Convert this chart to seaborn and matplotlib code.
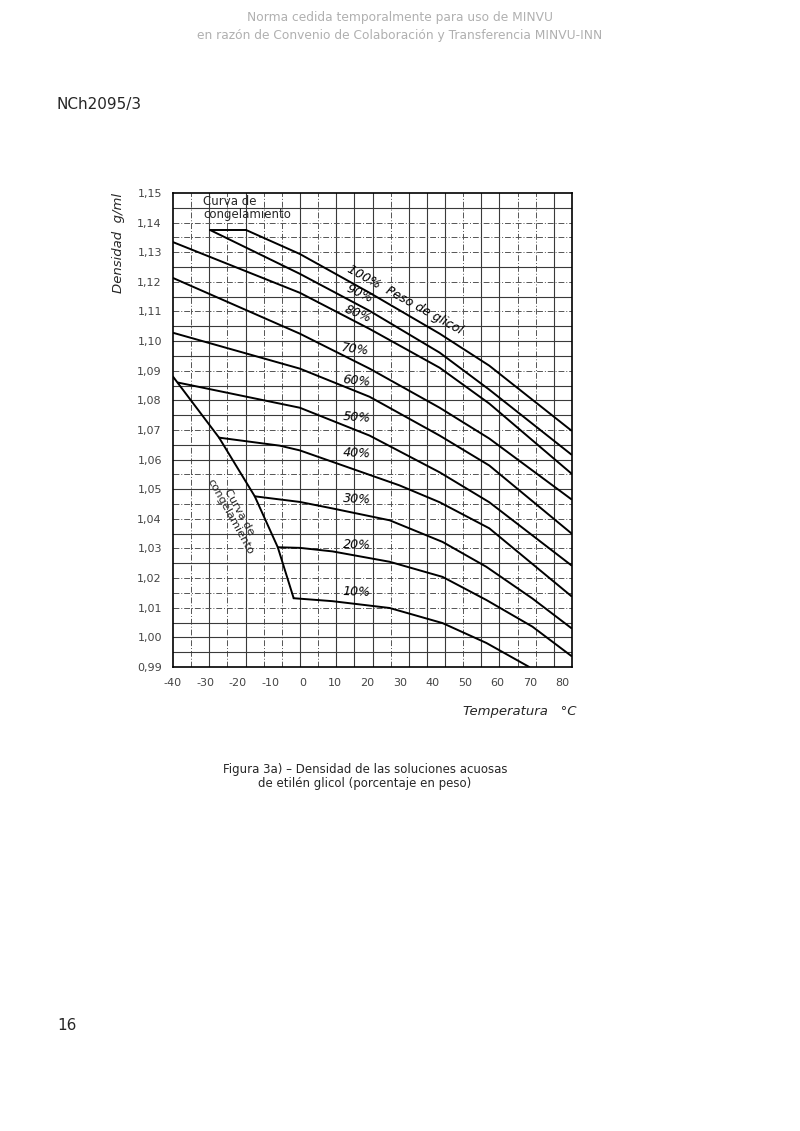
import numpy as np
import pandas as pd
import matplotlib.pyplot as plt
import seaborn as sns
from matplotlib.ticker import FixedLocator, FuncFormatter

# Density (g/ml) of ethylene glycol solutions vs temperature (°C),
# values
t_100 = [-17.5, -0.9, 20.6, 42.2, 57.5, 82.8]
d_100 = [1.1375, 1.1294, 1.1163, 1.1025, 1.0917, 1.0698]
t_90 = [-28.6, -0.9, 20.6, 42.2, 57.5, 82.8]
d_90 = [1.1375, 1.1227, 1.1102, 1.0961, 1.0836, 1.0617]
t_80 = [-40, -0.9, 20.6, 42.2, 57.5, 82.8]
d_80 = [1.1334, 1.1163, 1.1041, 1.0910, 1.0789, 1.0553]
t_70 = [-40, -0.9, 20.6, 42.2, 57.5, 82.8]
d_70 = [1.1213, 1.1025, 1.0907, 1.0775, 1.0671, 1.0466]
t_60 = [-40, -0.9, 20.6, 42.2, 57.5, 82.8]
d_60 = [1.1028, 1.0907, 1.0812, 1.0681, 1.0580, 1.0351]
t_50 = [-38.5, -0.9, 20.6, 42.2, 57.5, 82.8]
d_50 = [1.0860, 1.0775, 1.0681, 1.0557, 1.0456, 1.0243]
t_40 = [-25.8, -7.1, -0.9, 29.8, 42.2, 57.5, 82.8]
d_40 = [1.0674, 1.0647, 1.0631, 1.0513, 1.0456, 1.0368, 1.0139]
t_30 = [-14.8, -0.9, 9.2, 26.8, 43.1, 56.6, 70.8, 82.8]
d_30 = [1.0476, 1.0457, 1.0435, 1.0395, 1.0322, 1.0238, 1.0131, 1.0031]
t_20 = [-7.7, -0.9, 9.2, 26.8, 43.1, 56.6, 70.8, 82.8]
d_20 = [1.0304, 1.0302, 1.0290, 1.0255, 1.0204, 1.0126, 1.0036, 0.9937]
t_10 = [-2.8, 9.2, 26.8, 43.1, 56.6, 69.8]
d_10 = [1.0132, 1.0122, 1.0099, 1.0048, 0.9981, 0.9900]

# freezing curve (curva de congelamiento)
t_freeze_low = [-40, -25.8, -14.8, -7.7, -2.8]
d_freeze_low = [1.0880, 1.0674, 1.0476, 1.0304, 1.0132]
t_freeze_top = [-28.6, -17.5]
d_freeze_top = [1.1375, 1.1375]

labels = ['100%', '90%', '80%', '70%', '60%', '50%', '40%', '30%', '20%', '10%']
label_t = [14.0, 17.5, 16.9, 16.0, 16.6, 16.6, 16.6, 16.6, 16.6, 16.6]
label_d = [1.1246, 1.1159, 1.1092, 1.0971, 1.0866, 1.0742, 1.0621, 1.0466, 1.0311, 1.0153]
label_rot = [-29, -25, -22, -8, -6, -4, -3, -3, -2, -2]

x_ticks = [-40, -30, -20, -10, 0, 10, 20, 30, 40, 50, 60, 70, 80]
y_ticks = [0.99, 1.00, 1.01, 1.02, 1.03, 1.04, 1.05, 1.06, 1.07, 1.08,
           1.09, 1.10, 1.11, 1.12, 1.13, 1.14, 1.15]

curves = [(t_100, d_100), (t_90, d_90), (t_80, d_80), (t_70, d_70), (t_60, d_60),
          (t_50, d_50), (t_40, d_40), (t_30, d_30), (t_20, d_20), (t_10, d_10)]
rows = []
for name, (t, d) in zip(labels, curves):
    rows += [(name, a, b) for a, b in zip(t, d)]
df = pd.DataFrame(rows, columns=['conc', 'temp', 'dens'])

freeze = pd.DataFrame(
    [('low', a, b) for a, b in zip(t_freeze_low, d_freeze_low)]
    + [('top', a, b) for a, b in zip(t_freeze_top, d_freeze_top)],
    columns=['seg', 'temp', 'dens'])

sns.set_style('white')
plt.rcParams['font.family'] = ['DejaVu Sans']

fig = plt.figure(figsize=(8, 11.31), dpi=100)
ax = fig.add_axes([0.21625, 0.4103, 0.49875, 0.4191])
ax.set_xlim(-40, 83)
ax.set_ylim(0.99, 1.15)

# graph paper grid (solid and dash-dot lines)
v_pos = np.linspace(-40, 83, 23)[1:-1]
v_solid = {2, 4, 7, 9, 10, 11, 13, 14, 15, 17, 18, 21}
for k, x in enumerate(v_pos, start=1):
    if k in v_solid:
        ax.axvline(x, color='#3a3a3a', lw=0.8, zorder=1)
    else:
        ax.axvline(x, color='#555555', lw=0.7, dashes=(6, 2, 1, 2), zorder=1)

h_solid = {1, 5, 7, 9, 10, 11, 13, 14, 15, 17, 18, 20, 23, 25, 29, 30, 31}
for k in range(1, 32):
    y = 1.15 - 0.005 * k
    if k in h_solid:
        ax.axhline(y, color='#3a3a3a', lw=0.8, zorder=1)
    else:
        ax.axhline(y, color='#555555', lw=0.7, dashes=(6, 2, 1, 2), zorder=1)

sns.lineplot(data=df, x='temp', y='dens', units='conc', estimator=None,
             sort=False, color='black', lw=1.4, ax=ax, zorder=3)
sns.lineplot(data=freeze, x='temp', y='dens', units='seg', estimator=None,
             sort=False, color='black', lw=1.4, ax=ax, zorder=3)

for lab, tx, dy, rot in zip(labels, label_t, label_d, label_rot):
    txt = lab + '  Peso de glicol' if lab == '100%' else lab
    ha = 'left' if lab == '100%' else 'center'
    ax.text(tx, dy, txt, rotation=rot, rotation_mode='anchor', ha=ha,
            va='center', fontsize=9, fontstyle='italic', color='black',
            zorder=4)

ax.text(-30.6, 1.1492, 'Curva de\ncongelamiento', ha='left', va='top',
        fontsize=8.5, linespacing=0.95, zorder=4)
ax.text(-21.0, 1.0415, 'Curva de\ncongelamiento', ha='center', va='center',
        rotation=-61, rotation_mode='anchor', fontsize=8.2, linespacing=0.9,
        zorder=4)

for s in ax.spines.values():
    s.set_color('black')
    s.set_linewidth(1.2)

ax.xaxis.set_major_locator(FixedLocator(x_ticks))
ax.yaxis.set_major_locator(FixedLocator(y_ticks))
ax.yaxis.set_major_formatter(FuncFormatter(lambda v, p: f'{v:.2f}'.replace('.', ',')))
ax.xaxis.set_major_formatter(FuncFormatter(lambda v, p: f'{v:.0f}'))
ax.tick_params(length=0, labelsize=8, labelcolor='#444444', pad=8)
ax.set_xlabel('')
ax.set_ylabel('')

fig.text(0.148, 1 - 243 / 1131, 'Densidad  g/ml', rotation=90, ha='center',
         va='center', fontsize=9.5, fontstyle='italic')
fig.text(463 / 800, 1 - 712 / 1131, 'Temperatura   °C', ha='left', va='center',
         fontsize=9.5, fontstyle='italic')

fig.text(0.5, 1 - 18 / 1131, 'Norma cedida temporalmente para uso de MINVU',
         ha='center', va='center', fontsize=8.8, color='#b0b0b0')
fig.text(0.5, 1 - 36 / 1131,
         'en razón de Convenio de Colaboración y Transferencia MINVU-INN',
         ha='center', va='center', fontsize=8.8, color='#b0b0b0')
fig.text(57 / 800, 1 - 105 / 1131, 'NCh2095/3', ha='left', va='center',
         fontsize=11)
fig.text(57 / 800, 1 - 1025 / 1131, '16', ha='left', va='center', fontsize=11)
fig.text(365 / 800, 1 - 777 / 1131,
         'Figura 3a) \u2013 Densidad de las soluciones acuosas\n'
         'de etilén glicol (porcentaje en peso)',
         ha='center', va='center', multialignment='center', fontsize=8.5,
         linespacing=1.1)

fig.savefig('out.png', dpi=100, facecolor='white')
